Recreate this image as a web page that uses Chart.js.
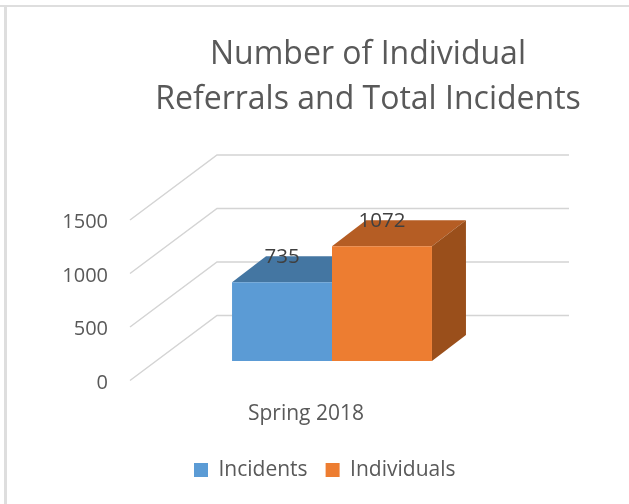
<!DOCTYPE html>
<html>
<head>
<meta charset="utf-8">
<title>Number of Individual Referrals and Total Incidents</title>
<script src="https://cdn.jsdelivr.net/npm/chart.js@4"></script>
<style>
  html, body { margin: 0; padding: 0; background: #fff; overflow: hidden; }
  #top-line { position: absolute; left: 0; top: 5px; width: 629px; height: 2px; background: #dedede; }
  #left-line { position: absolute; left: 4px; top: 7px; width: 3px; height: 497px; background: #dedede; }
  canvas { position: absolute; left: 0; top: 0; }
</style>
</head>
<body>
<div id="top-line"></div>
<div id="left-line"></div>
<canvas id="chart" width="629" height="504"></canvas>
<script>
const categories = ["Spring 2018"];
const seriesNames = ["Incidents", "Individuals"];
const incidents = [735];
const individuals = [1072];
const yMax = 1500;
const yStep = 500;

const textColor = "#595959";
const fontName = "'Open Sans', sans-serif";

// how far the floor and the bars go back on screen
const wallShift = { x: 87, y: 65 };
const frontShift = { x: 26, y: 19.5 };
const barDepth = { x: 34, y: 26 };
const wallRight = 569;

const faceColors = [
  { top: "#4476a2", side: "#3d6a92" },
  { top: "#b55d24", side: "#9a4f1b" },
];

function fillFace(ctx, points, color) {
  ctx.fillStyle = color;
  ctx.beginPath();
  points.forEach(function (p, i) {
    if (i === 0) ctx.moveTo(p[0], p[1]);
    else ctx.lineTo(p[0], p[1]);
  });
  ctx.closePath();
  ctx.fill();
}

const fake3d = {
  id: "fake3d",
  afterLayout(chart) {
    // title and legend are not centred on the canvas in the original
    chart.titleBlock.left = 107;
    chart.titleBlock.right = 629;
    chart.legend.left = 20.5;
    chart.legend.right = 629;
  },
  beforeDatasetsDraw(chart) {
    let ctx = chart.ctx;
    let yScale = chart.scales.y;
    let startX = chart.chartArea.left - frontShift.x;

    // walls
    ctx.save();
    ctx.strokeStyle = "#d4d4d4";
    ctx.lineWidth = 1.5;
    yScale.ticks.forEach(function (tick) {
      let y = yScale.getPixelForValue(tick.value) + frontShift.y;
      ctx.beginPath();
      ctx.moveTo(startX, y);
      ctx.lineTo(startX + wallShift.x, y - wallShift.y);
      ctx.lineTo(wallRight, y - wallShift.y);
      ctx.stroke();
    });
    ctx.restore();

    // top and side faces, the library paints the front faces over them
    chart.data.datasets.forEach(function (ds, i) {
      let bar = chart.getDatasetMeta(i).data[0];
      let left = bar.x - bar.width / 2;
      let right = bar.x + bar.width / 2;
      fillFace(ctx, [
        [left, bar.y],
        [right, bar.y],
        [right + barDepth.x, bar.y - barDepth.y],
        [left + barDepth.x, bar.y - barDepth.y],
      ], faceColors[i].top);
      fillFace(ctx, [
        [right, bar.y],
        [right + barDepth.x, bar.y - barDepth.y],
        [right + barDepth.x, bar.base - barDepth.y],
        [right, bar.base],
      ], faceColors[i].side);
    });
  },
  afterDatasetsDraw(chart) {
    let ctx = chart.ctx;
    ctx.save();
    ctx.fillStyle = "#404040";
    ctx.font = "20.5px " + fontName;
    ctx.textAlign = "center";
    ctx.textBaseline = "middle";
    chart.data.datasets.forEach(function (ds, i) {
      let bar = chart.getDatasetMeta(i).data[0];
      ctx.fillText(String(ds.data[0]), bar.x, bar.y - barDepth.y + 1);
    });
    ctx.restore();
  },
};

new Chart(document.getElementById("chart"), {
  type: "bar",
  data: {
    labels: categories,
    datasets: [
      { label: seriesNames[0], data: incidents, backgroundColor: "#5b9bd5" },
      { label: seriesNames[1], data: individuals, backgroundColor: "#ed7d31" },
    ],
  },
  options: {
    responsive: false,
    animation: false,
    layout: { padding: { left: 0, right: 121, top: 0, bottom: 13.5 } },
    categoryPercentage: 0.568,
    barPercentage: 1,
    plugins: {
      tooltip: { enabled: false },
      title: {
        display: true,
        text: ["Number of Individual", "Referrals and Total Incidents"],
        color: textColor,
        font: { family: fontName, size: 32, weight: "normal", lineHeight: 1.406 },
        padding: { top: 32, bottom: 78.5 },
      },
      legend: {
        position: "bottom",
        labels: {
          color: textColor,
          font: { family: fontName, size: 21 },
          boxWidth: 14,
          boxHeight: 14,
          padding: 18,
        },
      },
    },
    scales: {
      x: {
        grid: { display: false },
        border: { display: false },
        ticks: {
          color: textColor,
          font: { family: fontName, size: 21 },
          padding: 32.5,
          labelOffset: -26,
          maxRotation: 0,
        },
        afterFit(scale) {
          scale.height = 80.5;
        },
      },
      y: {
        min: 0,
        max: yMax,
        grid: { display: false },
        border: { display: false },
        ticks: {
          stepSize: yStep,
          color: textColor,
          font: { family: fontName, size: 20 },
          padding: 40,
          labelOffset: 22,
          callback: function (value) {
            return String(value);
          },
        },
        afterFit(scale) {
          scale.width = 156;
        },
      },
    },
  },
  plugins: [fake3d],
});
</script>
</body>
</html>
